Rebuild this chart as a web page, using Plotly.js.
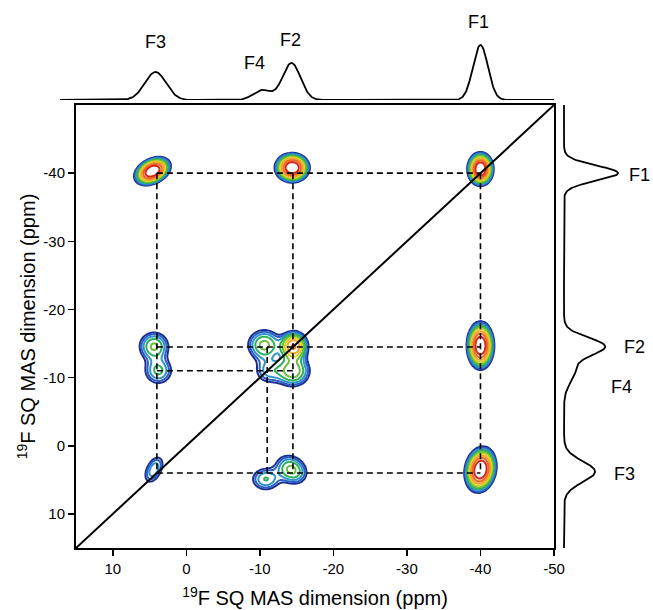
<!DOCTYPE html>
<html><head><meta charset="utf-8">
<script src="https://cdn.plot.ly/plotly-3.0.1.min.js"></script>
<style>html,body{margin:0;padding:0;background:#fff;}</style>
</head><body>
<div id="chart" style="width:653px;height:610px;"></div>
<script>
// ---- fluorine sites (ppm) ----
const siteNames  = ['F1', 'F2', 'F3', 'F4'];
const siteShifts = [-40, -14.5, 4, -11];

// ---- axes ----
const axisRange = [15, -50];
const xTickVals = [10, 0, -10, -20, -30, -40, -50];
const xTickText = ['10', '0', '-10', '-20', '-30', '-40', '-50'];
const yTickVals = [10, 0, -10, -20, -30, -40];
const yTickText = ['10', '0', '-10', '-20', '-30', '-40'];
const diagonal  = [15, -50];

// ---- 2D correlation peaks (direct x, indirect y, ppm) ----
const peakX   = [4.6,  -14.4, -40,   4.4,   3.8,   -14.6, -10.6, -14.5, -11.2, -40,   4.4,  -14.3, -10.8, -40];
const peakY   = [-40.3,-40.8, -40.6, -14.6, -11,   -14.6, -14.8, -11,   -11,   -14.7, 3.5,  3.5,   4.9,   3.5];
const peakAmp = [1.0,  0.98,  1.0,   0.21,  0.16,  0.5,   0.22,  0.25,  0.12,  0.95,  0.14, 0.22,  0.15,  1.0];
const peakWx  = [2.5,  2.4,   1.8,   2.9,   2.9,   2.3,   3.2,   3.2,   3.0,   1.9,   2.1,  3.0,   3.0,   2.2];
const peakWy  = [2.1,  2.2,   2.5,   3.0,   3.0,   2.6,   3.2,   3.2,   3.0,   3.6,   3.2,  3.0,   2.6,   3.4];
const peakRho = [0.35, 0,     0,     0,     0,     0,     0,     0,     0,     0,     0.45, -0.2,  0,     0.15];

// ---- 1D projections ----
const topPeakPos   = [-40, -14.3, 4.2, -10.3];
const topPeakAmp   = [55, 37, 28, 10];
const topPeakWidth = [2.4, 2.9, 3.4, 2.8];
const rightPeakPos   = [-40, -14.6, 3.8, -11];
const rightPeakAmp   = [54, 40, 31, 11];
const rightPeakWidth = [2.6, 3.0, 3.6, 4.0];
const rightBaseline  = 1;

// ---- contour levels ----
const lowestLevel = 0.06;
const levelRatio  = 1.35;
const levelCount  = 10;
const levelColors = ['#1c2f8f', '#2a5fc8', '#2f95c8', '#2fae5e', '#6cbf3a',
                     '#d8d52a', '#f4a52a', '#ee6a24', '#d8261a', '#ffffff'];

const K = 4 * Math.LN2;
function g1(d, w) { return Math.exp(-K * d * d / (w * w)); }

// grid
const gridX = [], gridY = [];
for (let v = -50; v <= 15.0001; v += 0.25) { gridX.push(v); gridY.push(v); }
const zLog = gridY.map(y => gridX.map(x => {
  let s = 0;
  for (let k = 0; k < peakX.length; k++) {
    const u = (x - peakX[k]) / peakWx[k];
    const v = (y - peakY[k]) / peakWy[k];
    const r = peakRho[k];
    const q = (u * u - 2 * r * u * v + v * v) / (1 - r * r);
    s += peakAmp[k] * Math.exp(-K * q);
  }
  return Math.log10(Math.max(s, 1e-5));
}));

const cStart = Math.log10(lowestLevel);
const cSize = Math.log10(levelRatio);
const cEnd = cStart + (levelCount - 1) * cSize;
const colorscale = levelColors.map((c, i) => [i / (levelCount - 1), c]);

// projections
const topX = [], topY = [];
for (let x = 17.2; x >= -50.0001; x -= 0.1) {
  let s = 0;
  for (let k = 0; k < topPeakPos.length; k++) s += topPeakAmp[k] * g1(x - topPeakPos[k], topPeakWidth[k]);
  topX.push(x); topY.push(s);
}
const rightX = [], rightY = [];
for (let y = 15; y >= -50.0001; y -= 0.1) {
  let s = rightBaseline;
  for (let k = 0; k < rightPeakPos.length; k++) s += rightPeakAmp[k] * g1(y - rightPeakPos[k], rightPeakWidth[k]);
  rightY.push(y); rightX.push(s);
}

// dashed correlation lines
const [F1, F2, F3, F4] = siteShifts;
const dashX = [F3, F1, null, F3, F1, null, F3, F1, null, F3, F2, null,
               F3, F3, null, F2, F2, null, F1, F1, null, F4, F4];
const dashY = [F1, F1, null, F2, F2, null, F3, F3, null, F4, F4, null,
               F1, F3, null, F1, F3, null, F1, F3, null, F2, F3];

const traces = [
  { type: 'contour', x: gridX, y: gridY, z: zLog, autocontour: false,
    contours: { start: cStart, end: cEnd + 1e-9, size: cSize, coloring: 'lines' },
    line: { width: 2, smoothing: 1 }, colorscale: colorscale, showscale: false, hoverinfo: 'skip' },
  { type: 'scatter', mode: 'lines', x: dashX, y: dashY, connectgaps: false,
    line: { color: '#000', width: 1.6, dash: '6px,4px' }, hoverinfo: 'skip' },
  { type: 'scatter', mode: 'lines', x: diagonal, y: diagonal,
    line: { color: '#000', width: 2 }, hoverinfo: 'skip' },
  { type: 'scatter', mode: 'lines', x: topX, y: topY, xaxis: 'x2', yaxis: 'y2',
    line: { color: '#000', width: 1.8 }, hoverinfo: 'skip' },
  { type: 'scatter', mode: 'lines', x: rightX, y: rightY, xaxis: 'x3', yaxis: 'y',
    line: { color: '#000', width: 1.8 }, hoverinfo: 'skip' }
];

// label placement (pixel centres on the 653x610 page)
const W = 653, H = 610;
const labelFont = { size: 18, color: '#000' };
const topLabelPx   = [[478, 22], [290, 40], [155, 42], [254, 63]];
const rightLabelPx = [[639, 175], [634, 347], [624, 474], [621, 387]];
const annotations = [];
siteNames.forEach((n, i) => {
  annotations.push({ text: n, x: topLabelPx[i][0] / W, y: 1 - topLabelPx[i][1] / H,
    xref: 'paper', yref: 'paper', xanchor: 'center', yanchor: 'middle', showarrow: false, font: labelFont });
  annotations.push({ text: n, x: rightLabelPx[i][0] / W, y: 1 - rightLabelPx[i][1] / H,
    xref: 'paper', yref: 'paper', xanchor: 'center', yanchor: 'middle', showarrow: false, font: labelFont });
});

const axisCommon = {
  ticks: 'outside', ticklen: 6, tickwidth: 1.5, tickcolor: '#000',
  showline: true, linewidth: 2, linecolor: '#000', mirror: true,
  showgrid: false, zeroline: false, tickfont: { size: 15, color: '#000' }
};
const layout = {
  width: W, height: H,
  margin: { l: 0, r: 0, t: 0, b: 0 },
  paper_bgcolor: '#fff', plot_bgcolor: 'rgba(0,0,0,0)',
  font: { family: 'Liberation Sans, Arial, sans-serif', color: '#000' },
  showlegend: false,
  xaxis: Object.assign({}, axisCommon, {
    domain: [76 / W, 554 / W], range: axisRange, anchor: 'y',
    tickmode: 'array', tickvals: xTickVals, ticktext: xTickText,
    title: { text: '<sup>19</sup>F SQ MAS dimension (ppm)', font: { size: 20 }, standoff: 15 }
  }),
  yaxis: Object.assign({}, axisCommon, {
    domain: [62 / H, 505 / H], range: axisRange, anchor: 'x',
    tickmode: 'array', tickvals: yTickVals, ticktext: yTickText,
    title: { text: '<sup>19</sup>F SQ MAS dimension (ppm)', font: { size: 20 }, standoff: 2 }
  }),
  xaxis2: { domain: [60 / W, 554 / W], range: [17.18, -50], visible: false, anchor: 'y2' },
  yaxis2: { domain: [510 / H, 570 / H], range: [0, 60], visible: false, anchor: 'x2' },
  xaxis3: { domain: [563 / W, 623 / W], range: [0, 60], visible: false, anchor: 'y' },
  annotations: annotations
};

Plotly.newPlot('chart', traces, layout, { staticPlot: true, displayModeBar: false });
</script>
</body></html>
